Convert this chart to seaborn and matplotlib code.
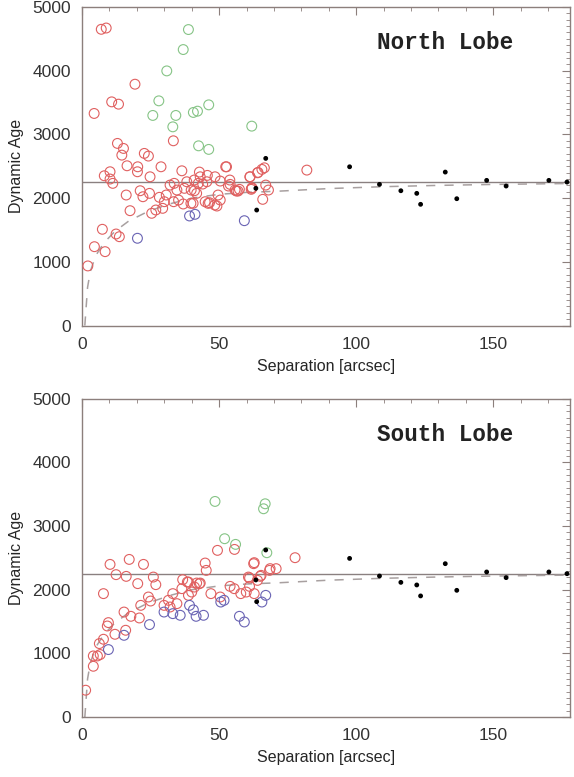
"""Dynamic age vs separation for the north and south lobes."""

import numpy as np
import matplotlib as mpl
import matplotlib.pyplot as plt
from matplotlib.ticker import MultipleLocator
import seaborn as sns

# ── data ─────────────────────────────────────────────────────────────────────

# far-field black dots, same in both panels
dot_x = [63.4, 63.7, 67.0, 97.6, 108.5, 116.3, 122.1, 123.5, 132.5, 136.7,
         147.6, 154.7, 170.3, 176.9]
dot_y = [2154, 1813, 2624, 2492, 2216, 2116, 2075, 1903, 2409, 1991,
         2279, 2190, 2279, 2252]

# dashed model curve
curve_x = [1, 1.5, 2, 3, 5, 8, 12, 17, 24, 32, 40, 50, 60, 72, 90, 110, 130, 150, 178]
curve_y = [0, 300, 600, 850, 1100, 1300, 1480, 1640, 1790, 1910, 2000, 2060,
           2090, 2110, 2150, 2180, 2200, 2215, 2230]
mean_age = 2250

# North lobe
north_red_x = [7.0, 8.8, 4.4, 10.8, 13.3, 19.3, 33.3, 12.9, 15.1, 14.5, 16.4,
               22.7, 24.2, 20.3, 20.2, 24.8, 8.1, 10.2, 10.2, 11.2, 28.8, 36.4,
               42.8, 45.7, 52.4, 48.5, 43.1, 61.3, 64.0, 65.6, 66.5, 67.0, 68.0,
               61.7, 57.4, 56.3, 54.0, 50.4, 40.9, 38.2, 32.1, 33.6, 34.6, 37.3,
               39.8, 44.0, 45.5, 42.4, 2.1, 4.5, 8.4, 7.4, 12.4, 13.6, 16.1,
               17.5, 21.2, 22.2, 24.6, 25.4, 26.9, 29.4, 28.2, 30.0, 30.7, 33.4,
               35.2, 36.9, 39.7, 41.0, 41.8, 44.9, 46.5, 49.2, 50.4, 53.4, 55.8,
               61.9, 65.9, 61.2, 64.2, 62.0, 52.7, 56.9, 53.9, 49.6, 46.0, 48.4,
               40.5, 82.0]
north_red_y = [4650, 4670, 3329, 3511, 3475, 3788, 2900, 2859, 2780, 2675, 2508,
               2702, 2660, 2492, 2414, 2335, 2351, 2414, 2300, 2232, 2492, 2429,
               2409, 2357, 2492, 2335, 2335, 2335, 2398, 2451, 2476, 2205, 2127,
               2138, 2138, 2111, 2216, 2268, 2284, 2257, 2205, 2232, 2127, 2154,
               2127, 2221, 2257, 2232, 936, 1238, 1160, 1511, 1437, 1395, 2049,
               1803, 2116, 2022, 2075, 1762, 1814, 1840, 2013, 1944, 2049, 1944,
               1970, 1908, 1918, 2116, 2075, 1944, 1928, 1876, 1970, 2190, 2127,
               2154, 1981, 2335, 2404, 2163, 2492, 2111, 2284, 2049, 1918, 1892,
               1918, 2440]
north_green_x = [38.8, 36.9, 30.9, 28.0, 25.8, 34.2, 33.1, 40.6, 42.1, 46.2,
                 42.5, 46.2, 61.9]
north_green_y = [4646, 4332, 3997, 3527, 3298, 3298, 3119, 3345, 3365, 3464,
                 2821, 2765, 3130]
north_blue_x = [20.2, 39.2, 41.2, 59.2]
north_blue_y = [1370, 1720, 1746, 1646]

# South lobe
south_red_x = [10.2, 12.4, 16.1, 17.2, 22.4, 20.3, 26.0, 26.9, 49.4, 55.6,
               44.9, 45.3, 62.8, 65.0, 68.6, 70.8, 61.1, 36.7, 38.8, 41.8, 43.1,
               1.3, 4.1, 4.1, 5.6, 6.6, 6.3, 7.8, 9.2, 9.6, 12.0, 15.9, 7.8,
               15.3, 17.8, 20.9, 21.4, 24.2, 25.0, 29.9, 31.5, 33.1, 32.1, 34.6,
               36.4, 38.4, 38.8, 40.0, 41.0, 42.8, 47.0, 50.4, 54.0, 55.5, 57.9,
               59.9, 61.1, 62.8, 64.0, 65.3, 68.4, 60.7, 62.6, 77.7]
south_red_y = [2398, 2237, 2210, 2476, 2398, 2096, 2199, 2080, 2618, 2633,
               2419, 2304, 2425, 2210, 2331, 2331, 2184, 2158, 2121, 2105, 2105,
               423, 799, 961, 961, 983, 1155, 1223, 1431, 1484, 1301, 1364, 1939,
               1650, 1583, 1557, 1755, 1886, 1823, 1755, 1834, 1939, 1729, 1782,
               2017, 2121, 1912, 1964, 2042, 2095, 1939, 1886, 2053, 2017, 1939,
               1964, 2053, 1939, 2147, 2226, 2304, 2199, 2409, 2503]
south_green_x = [48.5, 66.8, 66.2, 52.0, 56.0, 67.4]
south_green_y = [3386, 3349, 3271, 2801, 2712, 2581]
south_blue_x = [9.6, 15.3, 24.6, 29.9, 33.1, 35.8, 39.2, 40.6, 41.6, 44.3,
                50.6, 51.8, 57.4, 59.2, 65.6, 67.0]
south_blue_y = [1061, 1285, 1453, 1650, 1625, 1599, 1755, 1684, 1583, 1599,
                1807, 1834, 1583, 1494, 1807, 1912]

# ── style ────────────────────────────────────────────────────────────────────

sns.set_style("white")
mpl.rcParams.update({
    "font.family": ["Liberation Sans", "DejaVu Sans"],
    "font.size": 11,
    "xtick.labelsize": 12.5, "ytick.labelsize": 12.5,
})

RED = "#e06060"
GREEN = "#86c486"
BLUE = "#6a64b4"
AXIS_COL = "#8c7f7c"
LINE_COL = "#8a8080"
DASH_COL = "#a8a0a0"


def _circles(ax, x, y, color):
    sns.scatterplot(x=x, y=y, ax=ax, s=50, marker="o",
                    facecolors="none", edgecolors=color, color=color,
                    linewidth=0.8, zorder=3)


def _panel(ax, title, red, green, blue):
    ax.axhline(mean_age, color=LINE_COL, linewidth=1.0, zorder=1)
    sns.lineplot(x=curve_x, y=curve_y, ax=ax, color=DASH_COL, linewidth=1.1,
                 linestyle=(0, (6, 6)), zorder=1)
    _circles(ax, *red, RED)
    _circles(ax, *green, GREEN)
    _circles(ax, *blue, BLUE)
    sns.scatterplot(x=dot_x, y=dot_y, ax=ax, s=12, color="black",
                    edgecolor="none", zorder=4)

    ax.set_xlim(0, 178)
    ax.set_ylim(0, 5000)
    ax.xaxis.set_major_locator(MultipleLocator(50))
    ax.xaxis.set_minor_locator(MultipleLocator(10))
    ax.yaxis.set_major_locator(MultipleLocator(1000))
    ax.yaxis.set_minor_locator(MultipleLocator(100))
    ax.tick_params(which="both", direction="in", top=True, right=True,
                   color=AXIS_COL, labelcolor="#333333")
    ax.tick_params(which="major", length=6, width=0.8, pad=8)
    ax.tick_params(which="minor", length=3, width=0.6)
    for sp in ax.spines.values():
        sp.set_color(AXIS_COL)
        sp.set_linewidth(1.0)
    ax.set_xlabel("Separation [arcsec]", fontsize=11.5, labelpad=5)
    ax.set_ylabel("Dynamic Age", fontsize=11.5, labelpad=6)
    ax.text(0.745, 0.887, title, transform=ax.transAxes, ha="center", va="center",
            fontsize=16.3, fontweight="bold", family="Liberation Mono",
            color="#222222")


fig = plt.figure(figsize=(5.74, 7.77), dpi=100)
ax_n = fig.add_axes([0.143, 0.581, 0.850, 0.410])
ax_s = fig.add_axes([0.143, 0.077, 0.850, 0.410])

_panel(ax_n, "North Lobe", (north_red_x, north_red_y),
       (north_green_x, north_green_y), (north_blue_x, north_blue_y))
_panel(ax_s, "South Lobe", (south_red_x, south_red_y),
       (south_green_x, south_green_y), (south_blue_x, south_blue_y))

fig.savefig("out.png", dpi=100)
plt.close(fig)
